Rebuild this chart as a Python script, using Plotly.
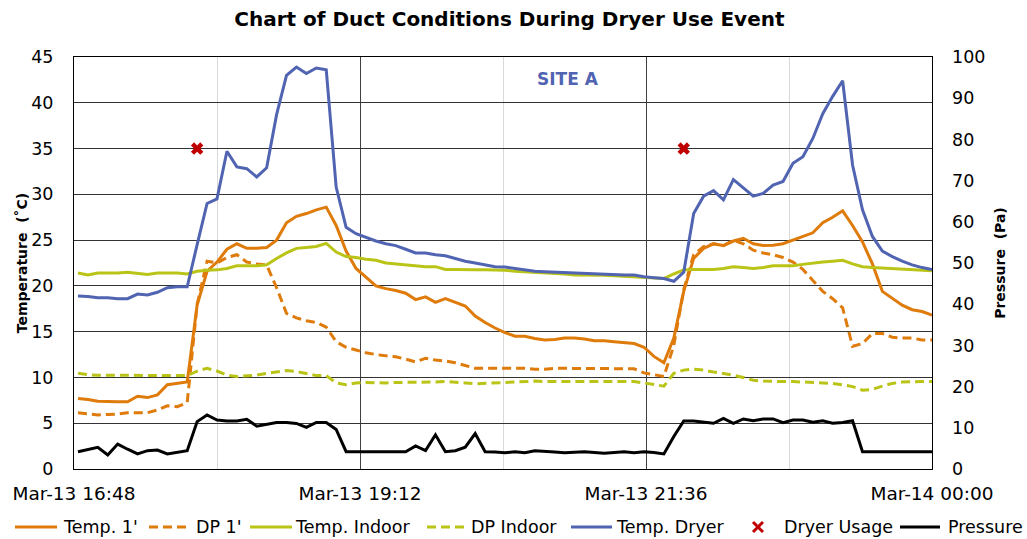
import pandas as pd
import plotly.graph_objects as go

# ---- data (5-minute samples, 16:50 -> 00:00) ----
start_time = "2021-03-13 16:50"
n_points = 87
times = pd.date_range(start_time, periods=n_points, freq="5min")

temp_1 = [7.7, 7.6, 7.4, 7.35, 7.35, 7.35, 7.95, 7.8, 8.1, 9.2, 9.35, 9.5,
          17.9, 21.6, 22.6, 24.0, 24.6, 24.1, 24.1, 24.2, 25.0, 26.9, 27.6, 27.9,
          28.3, 28.6, 26.6, 23.8, 21.9, 20.9, 20.0, 19.7, 19.5, 19.2, 18.5, 18.8,
          18.2, 18.6, 18.2, 17.8, 16.7, 16.0, 15.4, 14.9, 14.5, 14.5, 14.25, 14.1,
          14.15, 14.3, 14.3, 14.2, 14.0, 14.0, 13.9, 13.8, 13.7, 13.3, 12.3, 11.6,
          14.3, 19.4, 23.0, 24.1, 24.6, 24.4, 24.9, 25.2, 24.6, 24.4, 24.45, 24.6,
          25.0, 25.4, 25.8, 26.9, 27.5, 28.2, 26.6, 24.8, 22.4, 19.4, 18.6, 17.9,
          17.4, 17.2, 16.8]

dp_1 = [6.15, 6.0, 5.9, 5.95, 6.0, 6.15, 6.15, 6.15, 6.45, 6.9, 6.8, 7.25,
        18.0, 22.7, 22.5, 23.1, 23.4, 22.6, 22.4, 22.3, 19.8, 17.0, 16.5, 16.2,
        16.0, 15.5, 13.9, 13.3, 13.0, 12.7, 12.5, 12.35, 12.25, 12.0, 11.7, 12.1,
        11.9, 11.8, 11.6, 11.3, 11.0, 11.0, 11.0, 11.0, 11.0, 11.0, 10.9, 10.9,
        11.0, 11.0, 11.0, 11.0, 10.95, 10.95, 10.95, 10.95, 10.95, 10.5, 10.3, 10.1,
        13.5, 19.6, 23.4, 24.3, 24.6, 24.4, 25.0, 24.6, 23.9, 23.6, 23.4, 23.1,
        22.6, 21.8, 20.6, 19.4, 18.6, 17.6, 13.4, 13.7, 14.8, 14.8, 14.4, 14.3,
        14.3, 14.1, 14.1]

temp_indoor = [21.4, 21.2, 21.4, 21.4, 21.4, 21.5, 21.35, 21.25, 21.4, 21.4, 21.4, 21.3,
               21.6, 21.7, 21.75, 21.9, 22.2, 22.2, 22.2, 22.3, 23.0, 23.6, 24.1, 24.2,
               24.3, 24.65, 23.7, 23.2, 23.1, 22.9, 22.8, 22.5, 22.4, 22.3, 22.2, 22.1,
               22.1, 21.8, 21.8, 21.75, 21.75, 21.75, 21.75, 21.7, 21.6, 21.55, 21.5, 21.45,
               21.4, 21.3, 21.2, 21.2, 21.2, 21.15, 21.1, 21.05, 21.0, 20.95, 20.85, 20.8,
               21.3, 21.75, 21.8, 21.8, 21.8, 21.9, 22.1, 22.0, 21.9, 22.0, 22.2, 22.2,
               22.2, 22.35, 22.5, 22.6, 22.7, 22.8, 22.4, 22.1, 22.0, 21.95, 21.9, 21.85,
               21.75, 21.7, 21.65]

dp_indoor = [10.45, 10.3, 10.25, 10.25, 10.25, 10.25, 10.25, 10.25, 10.25, 10.25, 10.25, 10.2,
             10.7, 11.0, 10.7, 10.25, 10.1, 10.15, 10.25, 10.45, 10.6, 10.75, 10.65, 10.45,
             10.2, 10.2, 9.4, 9.2, 9.4, 9.45, 9.4, 9.4, 9.45, 9.45, 9.45, 9.45,
             9.5, 9.55, 9.5, 9.4, 9.3, 9.35, 9.45, 9.5, 9.5, 9.55, 9.6, 9.55,
             9.55, 9.55, 9.55, 9.55, 9.55, 9.55, 9.55, 9.55, 9.55, 9.4, 9.2, 9.05,
             10.45, 10.8, 10.9, 10.8, 10.6, 10.45, 10.25, 10.0, 9.7, 9.6, 9.55, 9.55,
             9.55, 9.5, 9.45, 9.4, 9.35, 9.2, 9.0, 8.6, 8.7, 9.05, 9.35, 9.5,
             9.55, 9.55, 9.55]

temp_dryer = [18.9, 18.85, 18.7, 18.7, 18.6, 18.6, 19.1, 19.0, 19.3, 19.8, 19.9, 19.9,
              24.5, 29.0, 29.5, 34.7, 33.0, 32.8, 31.9, 32.9, 38.7, 43.0, 43.9, 43.2,
              43.8, 43.6, 30.8, 26.4, 25.7, 25.3, 24.9, 24.6, 24.4, 24.0, 23.6, 23.6,
              23.4, 23.3, 23.0, 22.7, 22.5, 22.3, 22.1, 22.05, 21.9, 21.75, 21.6, 21.55,
              21.5, 21.45, 21.4, 21.35, 21.3, 21.25, 21.2, 21.2, 21.2, 21.0, 20.9, 20.8,
              20.5, 21.5, 27.9, 29.8, 30.4, 29.4, 31.6, 30.7, 29.8, 30.1, 31.0, 31.4,
              33.4, 34.1, 36.1, 38.8, 40.7, 42.4, 33.2, 28.3, 25.4, 23.8, 23.2, 22.7,
              22.3, 22.0, 21.8]

pressure = [4.2, 4.8, 5.25, 3.4, 6.05, 4.8, 3.65, 4.45, 4.6, 3.65, 4.05, 4.45,
            11.5, 13.1, 11.9, 11.65, 11.65, 12.05, 10.4, 10.85, 11.3, 11.3, 11.05, 10.1,
            11.3, 11.3, 9.6, 4.2, 4.2, 4.2, 4.2, 4.2, 4.2, 4.2, 5.6, 4.45,
            8.3, 4.2, 4.45, 5.3, 8.6, 4.2, 4.1, 3.95, 4.2, 3.95, 4.45, 4.2,
            4.1, 3.95, 4.1, 4.2, 4.0, 3.8, 4.0, 4.2, 3.95, 4.2, 4.0, 3.65,
            7.9, 11.65, 11.65, 11.4, 11.1, 12.3, 11.1, 12.15, 11.7, 12.15, 12.15, 11.25,
            11.9, 11.9, 11.35, 11.7, 11.1, 11.3, 11.7, 4.2, 4.2, 4.2, 4.2, 4.2,
            4.2, 4.2, 4.2]

usage_index = [12, 61]
usage_value = [35, 35]

series_names = ["Temp. 1'", "DP 1'", "Temp. Indoor", "DP Indoor",
                "Temp. Dryer", "Dryer Usage", "Pressure"]

# ---- styling ----
ORANGE = "#DF7B0B"
LIME = "#BAC416"
BLUE = "#5064B2"
RED = "#C00000"
FONT = "DejaVu Sans"
LW = 3
DASH = "9px,5px"

W, H = 1027, 539
ML, MR, MT, MB = 74, 95, 57, 70
PW, PH = W - ML - MR, H - MT - MB


def px_to_paper_x(px):
    return (px - ML) / PW


def px_to_paper_y(py):
    return (H - MB - py) / PH


fig = go.Figure()
fig.add_trace(go.Scatter(x=times, y=temp_1, name=series_names[0], mode="lines",
                         line=dict(color=ORANGE, width=LW)))
fig.add_trace(go.Scatter(x=times, y=dp_1, name=series_names[1], mode="lines",
                         line=dict(color=ORANGE, width=LW, dash=DASH)))
fig.add_trace(go.Scatter(x=times, y=temp_indoor, name=series_names[2], mode="lines",
                         line=dict(color=LIME, width=LW)))
fig.add_trace(go.Scatter(x=times, y=dp_indoor, name=series_names[3], mode="lines",
                         line=dict(color=LIME, width=LW, dash=DASH)))
fig.add_trace(go.Scatter(x=times, y=temp_dryer, name=series_names[4], mode="lines",
                         line=dict(color=BLUE, width=LW)))
fig.add_trace(go.Scatter(x=[times[i] for i in usage_index], y=usage_value,
                         name=series_names[5], mode="markers",
                         marker=dict(symbol="x", color=RED, size=11,
                                     line=dict(width=0))))
fig.add_trace(go.Scatter(x=times, y=pressure, name=series_names[6], mode="lines",
                         yaxis="y2", line=dict(color="black", width=LW)))

x_start = pd.Timestamp("2021-03-13 16:48")
x_end = pd.Timestamp("2021-03-14 00:00")

fig.update_layout(
    width=W, height=H,
    paper_bgcolor="white", plot_bgcolor="white",
    font=dict(family=FONT, size=17, color="black"),
    margin=dict(l=ML, r=MR, t=MT, b=MB, autoexpand=False),
    showlegend=False,
    title=dict(text="<b>Chart of Duct Conditions During Dryer Use Event</b>",
               x=0.496, xanchor="center", y=1 - 19 / H, yanchor="middle",
               yref="container", font=dict(family=FONT, size=20)),
    xaxis=dict(type="date", range=[x_start, x_end],
               tick0=x_start, dtick=144 * 60 * 1000,
               tickformat="%b-%d %H:%M", tickfont=dict(size=18.5),
               showgrid=True, gridcolor="#404040", gridwidth=1,
               showline=True, linecolor="black", linewidth=1, mirror=True,
               ticks="", ticklabelstandoff=8, automargin=False,
               minor=dict(dtick=72 * 60 * 1000, tick0=x_start, showgrid=True,
                          gridcolor="#D9D9D9", gridwidth=1, ticks=""),
               zeroline=False),
    yaxis=dict(range=[0, 45], dtick=5, showgrid=True, gridcolor="#333333",
               gridwidth=1, showline=True, linecolor="black", linewidth=1,
               mirror=True, ticks="", ticklabelstandoff=16, zeroline=False,
               automargin=False, tickfont=dict(size=17.5),
               title=dict(text="<b>Temperature\u00a0\u00a0(˚C)</b>",
                          font=dict(size=14), standoff=0)),
    yaxis2=dict(range=[0, 100], dtick=10, overlaying="y", side="right",
                showgrid=False, showline=False, ticks="", ticklabelstandoff=19,
                zeroline=False, automargin=False, tickfont=dict(size=17.5),
                title=dict(text="<b>Pressure\u00a0\u00a0(Pa)</b>",
                           font=dict(size=14), standoff=10)),
)

fig.add_annotation(text="<b>SITE A</b>", xref="paper", yref="paper",
                   x=px_to_paper_x(568), y=px_to_paper_y(79),
                   xanchor="center", yanchor="middle", showarrow=False,
                   font=dict(family=FONT, size=17, color=BLUE))

# ---- legend drawn along the bottom, one row ----
LEG_Y = 527
legend_items = [
    # (name index, kind, color, dash, symbol start px, symbol end px, text start px)
    (0, "line", ORANGE, "solid", 15, 57, 61),
    (1, "line", ORANGE, DASH, 149, 187, 194),
    (2, "line", LIME, "solid", 250, 292, 293),
    (3, "line", LIME, DASH, 427, 465, 469),
    (4, "line", BLUE, "solid", 571, 612, 614),
    (5, "x", RED, "solid", 753, 763, 782),
    (6, "line", "black", "solid", 900, 940, 946),
]
yl = px_to_paper_y(LEG_Y)
for idx, kind, color, dash, x0, x1, xt in legend_items:
    if kind == "line":
        fig.add_shape(type="line", xref="paper", yref="paper",
                      x0=px_to_paper_x(x0), x1=px_to_paper_x(x1), y0=yl, y1=yl,
                      line=dict(color=color, width=LW, dash=dash))
    else:
        half = (x1 - x0) / 2
        cx = (x0 + x1) / 2
        for sgn in (1, -1):
            fig.add_shape(type="line", xref="paper", yref="paper",
                          x0=px_to_paper_x(cx - half), x1=px_to_paper_x(cx + half),
                          y0=px_to_paper_y(LEG_Y - sgn * half),
                          y1=px_to_paper_y(LEG_Y + sgn * half),
                          line=dict(color=color, width=3))
    fig.add_annotation(text=series_names[idx], xref="paper", yref="paper",
                       x=px_to_paper_x(xt), y=yl, xanchor="left", yanchor="middle",
                       showarrow=False, font=dict(family=FONT, size=17.5, color="black"))

fig.write_html(
    "out.html",
    config={"displayModeBar": False},
    post_script="document.body.style.margin='0';"
                "document.documentElement.style.overflow='hidden';"
                "document.body.style.overflow='hidden';",
)
